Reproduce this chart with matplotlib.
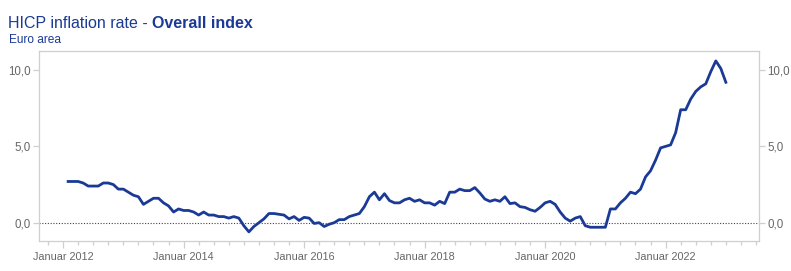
import numpy as np
import matplotlib
matplotlib.use("Agg")
import matplotlib.pyplot as plt

plt.rcParams['font.family'] = ['Liberation Sans', 'DejaVu Sans']

# monthly HICP annual rate, euro area, Jan 2012 - Dec 2022
rate_2012 = [2.7, 2.7, 2.7, 2.6, 2.4, 2.4, 2.4, 2.6, 2.6, 2.5, 2.2, 2.2]
rate_2013 = [2.0, 1.8, 1.7, 1.2, 1.4, 1.6, 1.6, 1.3, 1.1, 0.7, 0.9, 0.8]
rate_2014 = [0.8, 0.7, 0.5, 0.7, 0.5, 0.5, 0.4, 0.4, 0.3, 0.4, 0.3, -0.2]
rate_2015 = [-0.6, -0.25, 0.0, 0.25, 0.6, 0.6, 0.55, 0.5, 0.25, 0.4, 0.15, 0.35]
rate_2016 = [0.3, -0.05, 0.0, -0.25, -0.1, 0.0, 0.2, 0.2, 0.4, 0.5, 0.6, 1.05]
rate_2017 = [1.7, 2.0, 1.5, 1.9, 1.45, 1.3, 1.3, 1.5, 1.6, 1.4, 1.5, 1.3]
rate_2018 = [1.3, 1.15, 1.4, 1.25, 2.0, 2.0, 2.2, 2.1, 2.1, 2.3, 1.95, 1.55]
rate_2019 = [1.4, 1.5, 1.4, 1.7, 1.25, 1.3, 1.05, 1.0, 0.85, 0.75, 1.0, 1.3]
rate_2020 = [1.4, 1.2, 0.7, 0.3, 0.1, 0.3, 0.4, -0.2, -0.3, -0.3, -0.3, -0.3]
rate_2021 = [0.9, 0.9, 1.3, 1.6, 2.0, 1.9, 2.2, 3.0, 3.4, 4.1, 4.9, 5.0]
rate_2022 = [5.1, 5.9, 7.4, 7.4, 8.1, 8.6, 8.9, 9.1, 9.9, 10.6, 10.1, 9.2]

years = [2012, 2014, 2016, 2018, 2020, 2022]
year_labels = ["Januar %d" % y for y in years]
y_ticks = [0, 5, 10]
y_labels = ["0,0", "5,0", "10,0"]

rates = (rate_2012 + rate_2013 + rate_2014 + rate_2015 + rate_2016 + rate_2017
         + rate_2018 + rate_2019 + rate_2020 + rate_2021 + rate_2022)
# months since Jan 2012, values plotted at end of month
months = np.arange(len(rates)) + 1

blue = '#1a3a96'
grey = '#cfcfcf'
txt = '#666666'

fig = plt.figure(figsize=(7.91, 2.71), dpi=100)
ax = fig.add_axes([39 / 791, 1 - 241 / 271, 720 / 791, 190 / 271])

ax.plot(months, rates, color=blue, lw=2.0, solid_joinstyle='round')
ax.axhline(0, color='#444444', lw=0.8, ls=(0, (1, 1.5)))

ax.set_xlim(-4.8, 138.6)
ax.set_ylim(-1.2, 11.25)

ax.set_xticks([12 * (y - 2012) for y in years])
ax.set_xticklabels(year_labels)
ax.set_xticks(np.arange(-3, 139, 3), minor=True)
ax.set_yticks(y_ticks)
ax.set_yticklabels(y_labels)

for s in ax.spines.values():
    s.set_color(grey)
    s.set_linewidth(0.9)

ax.tick_params(axis='x', which='major', length=5, width=0.9, color=grey,
               labelsize=7.8, labelcolor=txt, pad=3)
ax.tick_params(axis='x', which='minor', length=3, width=0.9, color=grey)
ax.tick_params(axis='y', which='major', length=4, width=0.9, color=grey,
               labelsize=8.3, labelcolor=txt, pad=2,
               left=True, right=True, labelleft=True, labelright=True)

t1 = fig.text(8 / 791, 1 - 31 / 271, "HICP inflation rate - ", fontsize=11.5,
              color=blue, va='bottom', ha='left')
ax.annotate("Overall index", xy=(1, 0), xycoords=t1, fontsize=11.5, color=blue,
            fontweight='bold', va='bottom', ha='left', annotation_clip=False)
fig.text(9 / 791, 1 - 46 / 271, "Euro area", fontsize=8.6, color=blue,
         va='bottom', ha='left')

fig.savefig("out.png", dpi=100)
